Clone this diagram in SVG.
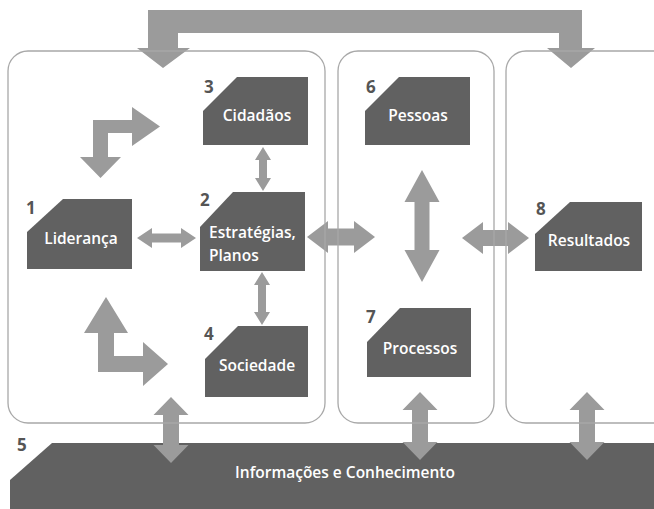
<svg xmlns="http://www.w3.org/2000/svg" width="654" height="509" viewBox="0 0 654 509">
<style>
.panel{fill:none;stroke:#a8a8a8;stroke-width:1.3}
.node{fill:#616161}
.arr{fill:#9b9b9b}
.lbl{font-family:"Open Sans","Liberation Sans",sans-serif;font-weight:600;font-size:15.5px;fill:#ffffff}
.num{font-family:"Open Sans","Liberation Sans",sans-serif;font-weight:bold;font-size:17px;fill:#555555}
</style>
<rect width="654" height="509" fill="#ffffff"/>
<g id="band5">
<polygon class="node" points="10,480 52,443 654,443 654,509 10,509"/>
<text class="num" x="17" y="451">5</text>
<text class="lbl" x="345" y="478" text-anchor="middle">Informações e Conhecimento</text>
</g>
<g id="connectors">
<polygon class="arr" points="137,48 163,68 190,48 178,48 178,33 559,33 559,48 547,48 571,68 595,48 582,48 582,10 148,10 148,48"/>
<polygon class="arr" points="93,120 132,120 132,107 160,126.5 132,146 132,133 108,133 108,157 121,157 100.5,178 80,157 93,157"/>
<polygon class="arr" points="106,297 128,333 114,333 114,356 143,356 143,342 168,364 143,386 143,372 98,372 98,333 84,333"/>
<polygon class="arr" points="137,238 152,228 152,233.5 181,233.5 181,228 196,238 181,248 181,242.5 152,242.5 152,248"/>
<polygon class="arr" points="263,147 271,160 267,160 267,178 271,178 263,191 255,178 259,178 259,160 255,160"/>
<polygon class="arr" points="262,272 270,285 266,285 266,312 270,312 262,325 254,312 258,312 258,285 254,285"/>
<polygon class="arr" points="307,237 328,221 328,228.5 354,228.5 354,221 375,237 354,253 354,245.5 328,245.5 328,253"/>
<polygon class="arr" points="462,238 483,222 483,230 508,230 508,222 529,238 508,254 508,246 483,246 483,254"/>
<polygon class="arr" points="422,170 439.5,202 429.5,202 429.5,250 439.5,250 422,282 404.5,250 414.5,250 414.5,202 404.5,202"/>
<polygon class="arr" points="171,397 188.5,415 179,415 179,445 188.5,445 171,463 153.5,445 163,445 163,415 153.5,415"/>
<polygon class="arr" points="420,392 437.5,410 428,410 428,442 437.5,442 420,460 402.5,442 412,442 412,410 402.5,410"/>
<polygon class="arr" points="587,392 604.5,410 595,410 595,442 604.5,442 587,460 569.5,442 579,442 579,410 569.5,410"/>
</g>
<g id="panels">
<rect class="panel" x="8" y="51" width="317" height="372" rx="20"/>
<rect class="panel" x="338" y="51" width="156" height="372" rx="20"/>
<rect class="panel" x="506" y="51" width="170" height="372" rx="20"/>
</g>
<g id="node3">
<polygon class="node" points="203,111 237,77 308,77 308,145 203,145"/>
<text class="num" x="204" y="93">3</text>
<text class="lbl" x="257" y="121" text-anchor="middle">Cidadãos</text>
</g>
<g id="node6">
<polygon class="node" points="365,111 399,77 470,77 470,145 365,145"/>
<text class="num" x="366" y="93">6</text>
<text class="lbl" x="418" y="121" text-anchor="middle">Pessoas</text>
</g>
<g id="node1">
<polygon class="node" points="27,232 63,199 132,199 132,269 27,269"/>
<text class="num" x="26" y="214">1</text>
<text class="lbl" x="81" y="244" text-anchor="middle">Liderança</text>
</g>
<g id="node2">
<polygon class="node" points="200,227 233,192 305,192 305,271 200,271"/>
<text class="num" x="200" y="206">2</text>
<text class="lbl" x="209" y="238">Estratégias,</text>
<text class="lbl" x="209" y="261">Planos</text>
</g>
<g id="node4">
<polygon class="node" points="205,359 238,326 308,326 308,397 205,397"/>
<text class="num" x="204" y="340">4</text>
<text class="lbl" x="257" y="371" text-anchor="middle">Sociedade</text>
</g>
<g id="node7">
<polygon class="node" points="367,342 400,308 471,308 471,377 367,377"/>
<text class="num" x="366" y="323">7</text>
<text class="lbl" x="420" y="354" text-anchor="middle">Processos</text>
</g>
<g id="node8">
<polygon class="node" points="535,234 570,202 642,202 642,271 535,271"/>
<text class="num" x="536" y="215">8</text>
<text class="lbl" x="589" y="246" text-anchor="middle">Resultados</text>
</g>
</svg>
